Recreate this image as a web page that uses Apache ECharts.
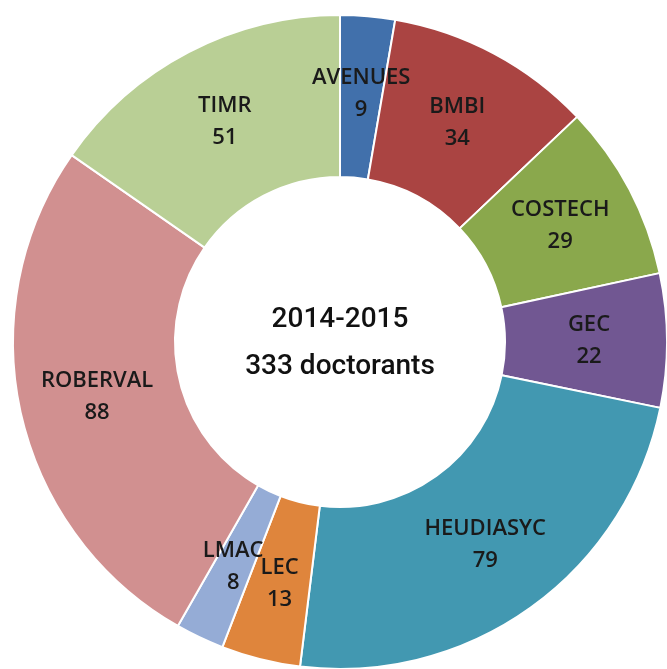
<!DOCTYPE html>
<html>
<head>
<meta charset="utf-8">
<script src="https://cdn.jsdelivr.net/npm/echarts@6/dist/echarts.min.js"></script>
<style>
    html, body { margin: 0; padding: 0; background: #fff; }
</style>
</head>
<body>
<div id="donut" style="width: 667px; height: 669px;"></div>
<script>
    var labs = ['AVENUES', 'BMBI', 'COSTECH', 'GEC', 'HEUDIASYC', 'LEC', 'LMAC', 'ROBERVAL', 'TIMR'];
    var counts = [9, 34, 29, 22, 79, 13, 8, 88, 51];
    var colors = ['#4170ab', '#aa4442', '#8aa84c', '#715792', '#4298b1', '#df853c', '#95acd6', '#d19090', '#b9cf95'];
    var year = '2014-2015';
    var total = counts.reduce(function (a, b) { return a + b; }, 0);

    var chartDom = document.getElementById('donut');
    var myChart = echarts.init(chartDom);
    var option;

    option = {
        animation: false,
        color: colors,
        graphic: [
            {
                type: 'text', x: 340, y: 320,
                style: { text: year, fill: '#111', font: '500 28px Roboto', textAlign: 'center', textVerticalAlign: 'middle' }
            },
            {
                type: 'text', x: 340, y: 367,
                style: { text: total + ' doctorants', fill: '#111', font: '500 28px Roboto', textAlign: 'center', textVerticalAlign: 'middle' }
            }
        ],
        series: [{
            type: 'pie',
            center: [340, 342],
            radius: [165, 327],
            startAngle: 90,
            clockwise: true,
            avoidLabelOverlap: false,
            itemStyle: {
                borderColor: '#fff',
                borderWidth: 2
            },
            label: {
                position: 'inside',
                formatter: '{b}\n{c}',
                color: '#1a1a1a',
                fontFamily: 'Open Sans',
                fontWeight: 600,
                fontSize: 22,
                lineHeight: 32
            },
            labelLayout: { hideOverlap: false },
            labelLine: { show: false },
            data: labs.map(function (n, i) {
                return { name: n, value: counts[i] };
            })
        }]
    };

    option && myChart.setOption(option);
</script>
</body>
</html>
